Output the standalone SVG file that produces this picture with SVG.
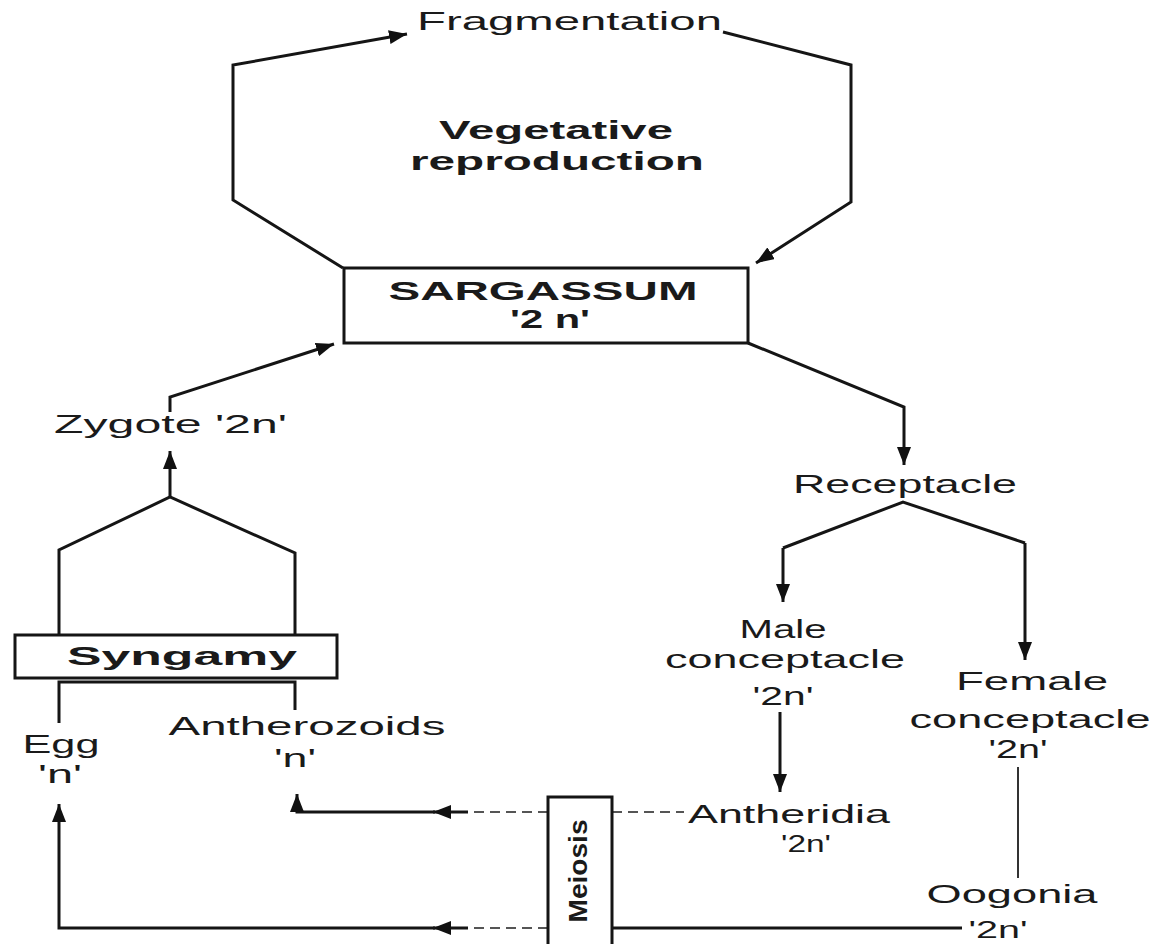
<svg xmlns="http://www.w3.org/2000/svg" width="1161" height="944" viewBox="0 0 1161 944">
<style>
.ln{fill:none;stroke:#151515;stroke-width:3;stroke-linejoin:miter}
.thin{fill:none;stroke:#333;stroke-width:2}
.dash{fill:none;stroke:#555;stroke-width:2;stroke-dasharray:10 6}
.box{fill:#fff;stroke:#151515;stroke-width:3}
.t{font-family:"Liberation Sans",Arial,sans-serif;font-size:26px;fill:#1a1a1a}
.s{font-size:23px}
.b{font-weight:bold}
.m{text-anchor:middle}
</style>
<defs>
<marker id="ah" viewBox="0 0 18 14" refX="18" refY="7" markerWidth="18" markerHeight="14" markerUnits="userSpaceOnUse" orient="auto">
<path d="M0,0 L18,7 L0,14 z" fill="#111"/>
</marker>
</defs>
<rect width="1161" height="944" fill="#fff"/>

<g id="connectors">
<path class="ln" d="M343,268 L233,200 L233,65 L407,34" marker-end="url(#ah)"/>
<path class="ln" d="M723,32 L851,65 L851,202 L756,263" marker-end="url(#ah)"/>
<path class="ln" d="M170,412 L170,397 L334,344" marker-end="url(#ah)"/>
<path class="ln" d="M170,497 L170,451" marker-end="url(#ah)"/>
<path class="ln" d="M59,635 L59,550 L170,497 L295,553 L295,635"/>
<path class="ln" d="M59,723 L59,682 L295,682 L295,710"/>
<path class="ln" d="M748,343 L904,407 L904,465" marker-end="url(#ah)"/>
<path class="ln" d="M783,548 L903,502 L1025,543"/>
<path class="ln" d="M783,548 L783,602" marker-end="url(#ah)"/>
<path class="ln" d="M1025,543 L1025,660" marker-end="url(#ah)"/>
<path class="ln" d="M780,712 L780,792" marker-end="url(#ah)"/>
<path class="thin" d="M1018,767 L1018,878"/>
<path class="dash" d="M612,812 L684,812"/>
<path class="ln" d="M612,928 L962,928"/>
<path class="dash" d="M548,812 L466,812"/>
<path class="ln" d="M468,812 L433,812" marker-end="url(#ah)"/>
<path class="ln" d="M435,812 L297,812 L297,794" marker-end="url(#ah)"/>
<path class="dash" d="M548,928 L466,928"/>
<path class="ln" d="M468,928 L433,928" marker-end="url(#ah)"/>
<path class="ln" d="M435,928 L59,928 L59,804" marker-end="url(#ah)"/>
</g>

<g id="fragmentation">
<text class="t" x="417" y="30" textLength="305" lengthAdjust="spacingAndGlyphs">Fragmentation</text>
</g>
<g id="vegetative">
<text class="t b m" x="556" y="139" textLength="234" lengthAdjust="spacingAndGlyphs">Vegetative</text>
<text class="t b m" x="557" y="170" textLength="294" lengthAdjust="spacingAndGlyphs">reproduction</text>
</g>
<g id="sargassum">
<rect class="box" x="344" y="268" width="404" height="75"/>
<text class="t b m" x="543" y="300" textLength="309" lengthAdjust="spacingAndGlyphs">SARGASSUM</text>
<text class="t b m" x="550" y="328" textLength="80" lengthAdjust="spacingAndGlyphs">'2 n'</text>
</g>
<g id="zygote">
<text class="t" x="54" y="433" textLength="233" lengthAdjust="spacingAndGlyphs">Zygote '2n'</text>
</g>
<g id="receptacle">
<text class="t m" x="905" y="493" textLength="224" lengthAdjust="spacingAndGlyphs">Receptacle</text>
</g>
<g id="male-conceptacle">
<text class="t m" x="783" y="638" textLength="87" lengthAdjust="spacingAndGlyphs">Male</text>
<text class="t m" x="785" y="668" textLength="240" lengthAdjust="spacingAndGlyphs">conceptacle</text>
<text class="t m" x="783" y="705" textLength="61" lengthAdjust="spacingAndGlyphs">'2n'</text>
</g>
<g id="female-conceptacle">
<text class="t m" x="1032" y="690" textLength="152" lengthAdjust="spacingAndGlyphs">Female</text>
<text class="t m" x="1030" y="728" textLength="241" lengthAdjust="spacingAndGlyphs">conceptacle</text>
<text class="t m" x="1018" y="758" textLength="59" lengthAdjust="spacingAndGlyphs">'2n'</text>
</g>
<g id="syngamy">
<rect class="box" x="15" y="635" width="322" height="43"/>
<text class="t b m" x="182" y="665" textLength="230" lengthAdjust="spacingAndGlyphs">Syngamy</text>
</g>
<g id="egg">
<text class="t m" x="61" y="753" textLength="77" lengthAdjust="spacingAndGlyphs">Egg</text>
<text class="t m" x="60" y="783" textLength="44" lengthAdjust="spacingAndGlyphs">'n'</text>
</g>
<g id="antherozoids">
<text class="t m" x="307" y="735" textLength="277" lengthAdjust="spacingAndGlyphs">Antherozoids</text>
<text class="t m" x="295" y="767" textLength="42" lengthAdjust="spacingAndGlyphs">'n'</text>
</g>
<g id="meiosis">
<rect class="box" x="548" y="797" width="64" height="160"/>
<text class="t b m" x="578" y="880" transform="rotate(-90 578 871)" textLength="103" lengthAdjust="spacingAndGlyphs">Meiosis</text>
</g>
<g id="antheridia">
<text class="t m" x="789" y="823" textLength="202" lengthAdjust="spacingAndGlyphs">Antheridia</text>
<text class="t s m" x="806" y="852" textLength="50" lengthAdjust="spacingAndGlyphs">'2n'</text>
</g>
<g id="oogonia">
<text class="t m" x="1012" y="903" textLength="171" lengthAdjust="spacingAndGlyphs">Oogonia</text>
<text class="t s m" x="998" y="938" textLength="59" lengthAdjust="spacingAndGlyphs">'2n'</text>
</g>
</svg>
